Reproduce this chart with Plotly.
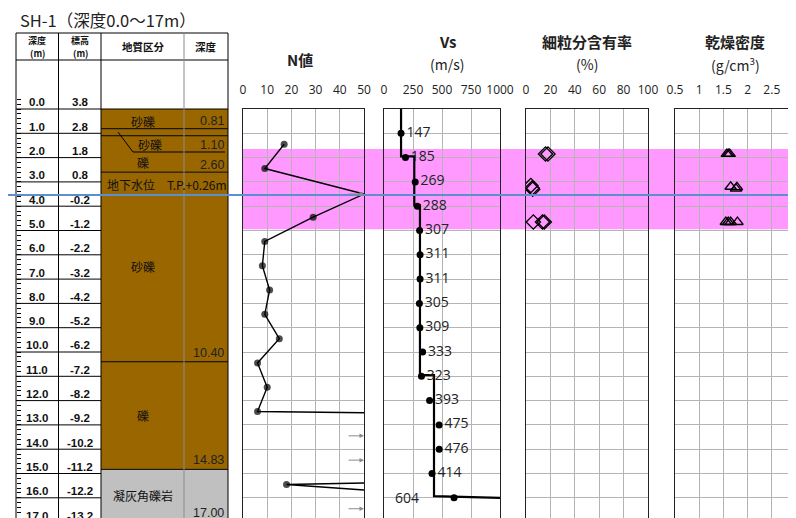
import plotly.graph_objects as go

# ---- data -------------------------------------------------------------
DEPTH_LABELS = ["0.0", "1.0", "2.0", "3.0", "4.0", "5.0", "6.0", "7.0", "8.0",
                "9.0", "10.0", "11.0", "12.0", "13.0", "14.0", "15.0", "16.0", "17.0"]
ELEV_LABELS = ["3.8", "2.8", "1.8", "0.8", "-0.2", "-1.2", "-2.2", "-3.2", "-4.2",
               "-5.2", "-6.2", "-7.2", "-8.2", "-9.2", "-10.2", "-11.2", "-12.2", "-13.2"]

GEO_TOP = [0.0, 0.81, 1.10, 2.60, 10.40, 14.83]
GEO_BOTTOM = [0.81, 1.10, 2.60, 10.40, 14.83, 17.00]
GEO_NAME = ["砂礫", "砂礫", "礫", "砂礫", "礫", "凝灰角礫岩"]
GEO_NAME_DEPTH = [0.5, 1.48, 2.22, 6.5, 12.6, 15.9]
GEO_BOTTOM_TEXT = ["0.81", "1.10", "2.60", "10.40", "14.83", "17.00"]
GEO_BOTTOM_TEXT_DEPTH = [0.5, 1.48, 2.3, 10.05, 14.45, 16.62]
GEO_COLOR = ["#996600", "#996600", "#996600", "#996600", "#996600", "#c0c0c0"]

GW_DEPTH = 3.54
GW_TEXT = "地下水位　T.P.+0.26m"
LIQ_TOP, LIQ_BOTTOM = 1.65, 4.95

N_DEPTH = [1.45, 2.45, 3.5, 4.45, 5.45, 6.45, 7.45, 8.45, 9.45, 10.45, 11.45, 12.45, 12.5,
           None, 15.39, 15.45, 15.68]
N_VALUE = [17, 9, 50, 29, 9, 8, 11, 9, 15, 6, 10, 6, 50,
           None, 50, 18, 50]
N_ARROW_DEPTH = [3.5, 13.45, 14.45, 16.45]

VS_STEP_DEPTH = [0, 1.95, 1.95, 3.97, 3.97, 10.95, 10.95, 15.93, 16.0]
VS_STEP_VALUE = [147, 147, 261, 261, 310, 310, 431, 431, 1000]
VS_DEPTH = [1, 2, 3, 4, 5, 6, 7, 8, 9, 10, 11, 12, 13, 14, 15, 16]
VS_VALUE = [147, 185, 269, 288, 307, 311, 311, 305, 309, 333, 323, 393, 475, 476, 414, 604]

FC_DEPTH = [1.85, 1.85, 3.15, 3.25, 3.3, 4.65, 4.65, 4.65]
FC_VALUE = [16, 18, 4, 5, 5.5, 6, 13.5, 15]

RHO_DEPTH = [1.85, 1.85, 1.85, 3.2, 3.28, 3.22, 4.65, 4.65, 4.65, 4.65]
RHO_VALUE = [1.57, 1.6, 1.63, 1.65, 1.76, 1.78, 1.55, 1.6, 1.65, 1.79]

N_TICKS = [0, 10, 20, 30, 40, 50]
VS_TICKS = [0, 250, 500, 750, 1000]
FC_TICKS = [0, 20, 40, 60, 80, 100]
RHO_TICKS = [0.5, 1, 1.5, 2, 2.5, 3]
RHO_TICKTEXT = ["0.5", "1", "1.5", "2", "2.5", "3"]

# ---- layout geometry ----------------------------------------------------
# the page body adds an 8px margin, so the figure is drawn 8px smaller
OFF = 8
W, H = 796 - OFF, 518 - OFF
PPM = 24.3                      # pixels per metre
Y0 = 109                        # pixel row of depth 0 (in the page)
D_TOP = -(Y0 - OFF) / PPM
D_BOTTOM = (OFF + H - Y0) / PPM
PANEL_TOP = 1 - (Y0 - OFF) / H
HDR_TOP, HDR_BOT = (33 - Y0) / PPM, (60 - Y0) / PPM

COL = [16, 58.5, 101, 184, 228]

FONT_JP = "Noto Sans CJK JP"
FONT_NUM = "Liberation Sans"
GRID = "#b4b4b4"


def px(x):
    return (x - OFF) / W


def py(y):
    return 1 - (y - OFF) / H


fig = go.Figure()

# helper traces so the base axes exist
fig.add_trace(go.Scatter(x=[None], y=[None], xaxis="x", yaxis="y", showlegend=False))
fig.add_trace(go.Scatter(x=[None], y=[None], xaxis="x", yaxis="y6", showlegend=False))

# N value
fig.add_trace(go.Scatter(
    x=N_VALUE, y=N_DEPTH, xaxis="x2", yaxis="y2", mode="lines+markers",
    line=dict(color="black", width=1.4),
    marker=dict(color="black", size=[0 if (v or 0) >= 50 else 7 for v in N_VALUE],
                line=dict(width=0)),
    connectgaps=False, showlegend=False, hoverinfo="skip",
))

# Vs
fig.add_trace(go.Scatter(
    x=VS_STEP_VALUE, y=VS_STEP_DEPTH, xaxis="x3", yaxis="y3", mode="lines",
    line=dict(color="black", width=2.2), showlegend=False, hoverinfo="skip",
))
fig.add_trace(go.Scatter(
    x=VS_VALUE, y=VS_DEPTH, xaxis="x3", yaxis="y3", mode="markers+text",
    marker=dict(color="black", size=7),
    text=[str(v) for v in VS_VALUE[:-1]] + [""],
    textposition="middle right",
    textfont=dict(family="Open Sans", size=14, color="#222"),
    cliponaxis=False, showlegend=False, hoverinfo="skip",
))

# fines content
fig.add_trace(go.Scatter(
    x=FC_VALUE, y=FC_DEPTH, xaxis="x4", yaxis="y4", mode="markers",
    marker=dict(symbol="diamond-open", size=11, color="black", line=dict(width=1.3)),
    showlegend=False, hoverinfo="skip",
))

# dry density
fig.add_trace(go.Scatter(
    x=RHO_VALUE, y=RHO_DEPTH, xaxis="x5", yaxis="y5", mode="markers",
    marker=dict(symbol="triangle-up-open", size=10, color="black", line=dict(width=1.3)),
    showlegend=False, hoverinfo="skip",
))

shapes = []
ann = []


def hline(d, x0, x1, color="black", width=1, layer="above"):
    shapes.append(dict(type="line", xref="paper", yref="y", x0=px(x0), x1=px(x1),
                       y0=d, y1=d, line=dict(color=color, width=width), layer=layer))


def vline(x, d0, d1, color="black", width=1):
    shapes.append(dict(type="line", xref="paper", yref="y", x0=px(x), x1=px(x),
                       y0=d0, y1=d1, line=dict(color=color, width=width), layer="above"))


def text(x, d, s, size=12, bold=False, xanchor="center", family=FONT_JP,
         yref="y", color="#111"):
    ann.append(dict(x=px(x), y=d, xref="paper", yref=yref, showarrow=False,
                    text=f"<b>{s}</b>" if bold else s, xanchor=xanchor, yanchor="middle",
                    font=dict(size=size, family=family, color=color)))


# liquefaction band
shapes.append(dict(type="rect", xref="paper", yref="y", x0=px(243), x1=1,
                   y0=LIQ_TOP, y1=LIQ_BOTTOM, fillcolor="#ff99ff",
                   line=dict(width=0), layer="below"))

# geology column
for top, bot, col in zip(GEO_TOP, GEO_BOTTOM, GEO_COLOR):
    shapes.append(dict(type="rect", xref="paper", yref="y", x0=px(COL[2]), x1=px(COL[4]),
                       y0=top, y1=bot, fillcolor=col, line=dict(width=0), layer="below"))
for d in GEO_TOP + GEO_BOTTOM[-1:]:
    hline(d, COL[2], COL[4])
for name, dn, lab, dl in zip(GEO_NAME, GEO_NAME_DEPTH, GEO_BOTTOM_TEXT, GEO_BOTTOM_TEXT_DEPTH):
    text(150 if dn == 1.48 else 143, dn, name, size=12)
    text(226, dl, lab, size=12.5, xanchor="right", family=FONT_NUM, color="#222")
# leader for the thin layer
shapes.append(dict(type="path", xref="paper", yref="y", layer="above",
                   path=f"M {px(118)},0.95 L {px(133)},1.77 L {px(225)},1.77",
                   line=dict(color="black", width=1)))
text(105, 3.09, GW_TEXT, size=12, xanchor="left")

# table frame
hline(HDR_TOP, COL[0], COL[4])
hline(HDR_BOT, COL[0], COL[4])
for x in (COL[0], COL[1], COL[2], COL[4]):
    vline(x, HDR_TOP, D_BOTTOM + 1)
vline(COL[3], HDR_TOP, D_BOTTOM + 1, color="#8c8c8c")
for i, (dl, el) in enumerate(zip(DEPTH_LABELS, ELEV_LABELS)):
    hline(i, COL[0], COL[2])
    text(37, i - 0.27, dl, size=11.5, bold=True, family=FONT_NUM)
    text(80, i - 0.27, el, size=11.5, bold=True, family=FONT_NUM)

# table header
hdr = (HDR_TOP + HDR_BOT) / 2
text(37, hdr - 0.23, "深度", size=9, bold=True)
text(37, hdr + 0.3, "(m)", size=9, bold=True)
text(80, hdr - 0.23, "標高", size=9, bold=True)
text(80, hdr + 0.3, "(m)", size=9, bold=True)
text(143, hdr, "地質区分", size=10.5, bold=True)
text(206, hdr, "深度", size=10.5, bold=True)

# groundwater line
shapes.append(dict(type="line", xref="paper", yref="y", x0=0, x1=1, y0=GW_DEPTH,
                   y1=GW_DEPTH, line=dict(color="#5b8fcf", width=2), layer="above"))

# N value overflow arrows
for d in N_ARROW_DEPTH:
    ann.append(dict(x=50, y=d, xref="x2", yref="y2", ax=43, ay=d, axref="x2", ayref="y2",
                    showarrow=True, arrowhead=2, arrowsize=0.9, arrowwidth=1,
                    arrowcolor="#8a8a8a", text="", standoff=0))

# last Vs value is labelled on the left of its point
ann.append(dict(x=VS_VALUE[-1], y=VS_DEPTH[-1], xref="x3", yref="y3", showarrow=False,
                text=str(VS_VALUE[-1]), xanchor="right", yanchor="middle", xshift=-33,
                font=dict(family="Open Sans", size=14, color="#222")))

# titles
ann.append(dict(x=px(18), y=py(20), xref="paper", yref="paper", showarrow=False,
                text="SH-1（深度0.0～17m）", xanchor="left", yanchor="middle",
                font=dict(size=16.5, family=FONT_JP, color="#222")))
for x, y, s, b in [(300, 60, "N値", True), (447, 42, "Vs", True), (447, 64, "(m/s)", False),
                   (587, 42, "細粒分含有率", True), (587, 64, "(%)", False),
                   (735, 42, "乾燥密度", True), (735, 64, "(g/cm<sup>3</sup>)", False)]:
    text(x, py(y), s, size=15 if b else 14, bold=b, yref="paper", color="#222")


def panel_x(x0, x1, rng, vals, txt, anchor):
    return dict(domain=[px(x0), min(px(x1), 1)], range=rng, anchor=anchor, side="top",
                tickmode="array", tickvals=vals, ticktext=txt, ticks="",
                showgrid=True, gridcolor=GRID, gridwidth=1, zeroline=False,
                showline=True, linecolor="#222", linewidth=1.3, mirror=True,
                automargin=False,
                ticklabelstandoff=9, tickfont=dict(family="Open Sans", size=12, color="#222"))


def panel_y(anchor):
    return dict(domain=[0, PANEL_TOP], range=[D_BOTTOM, 0], anchor=anchor,
                tickmode="linear", tick0=0, dtick=1, showticklabels=False, ticks="",
                showgrid=True, gridcolor=GRID, gridwidth=1, zeroline=False,
                showline=True, linecolor="#222", linewidth=1.3, mirror=True,
                automargin=False)


fig.update_layout(
    width=W, height=H,
    margin=dict(l=0, r=0, t=0, b=0, pad=0, autoexpand=False),
    paper_bgcolor="white", plot_bgcolor="rgba(0,0,0,0)",
    xaxis=dict(domain=[0, 1], range=[0, 1], visible=False, automargin=False),
    yaxis=dict(domain=[0, 1], range=[D_BOTTOM, D_TOP], visible=False, automargin=False),
    yaxis6=dict(overlaying="y", anchor="free", position=px(COL[0]), side="left",
                range=[D_BOTTOM, D_TOP], showgrid=False, zeroline=False, showline=False,
                showticklabels=False, ticks="inside", ticklen=4, tickcolor="black",
                automargin=False,
                tickmode="array", tickvals=[round(-0.4 + 0.2 * i, 1) for i in range(88)]),
    xaxis2=panel_x(243, 364, [0, 50], N_TICKS, [str(v) for v in N_TICKS], "y2"),
    yaxis2=panel_y("x2"),
    xaxis3=panel_x(384, 500, [0, 1000], VS_TICKS, [str(v) for v in VS_TICKS], "y3"),
    yaxis3=panel_y("x3"),
    xaxis4=panel_x(526, 648, [0, 100], FC_TICKS, [str(v) for v in FC_TICKS], "y4"),
    yaxis4=panel_y("x4"),
    xaxis5=panel_x(675, 796, [0.5, 3], RHO_TICKS, RHO_TICKTEXT, "y5"),
    yaxis5=panel_y("x5"),
    shapes=shapes,
    annotations=ann,
)

fig.write_html("out.html")
